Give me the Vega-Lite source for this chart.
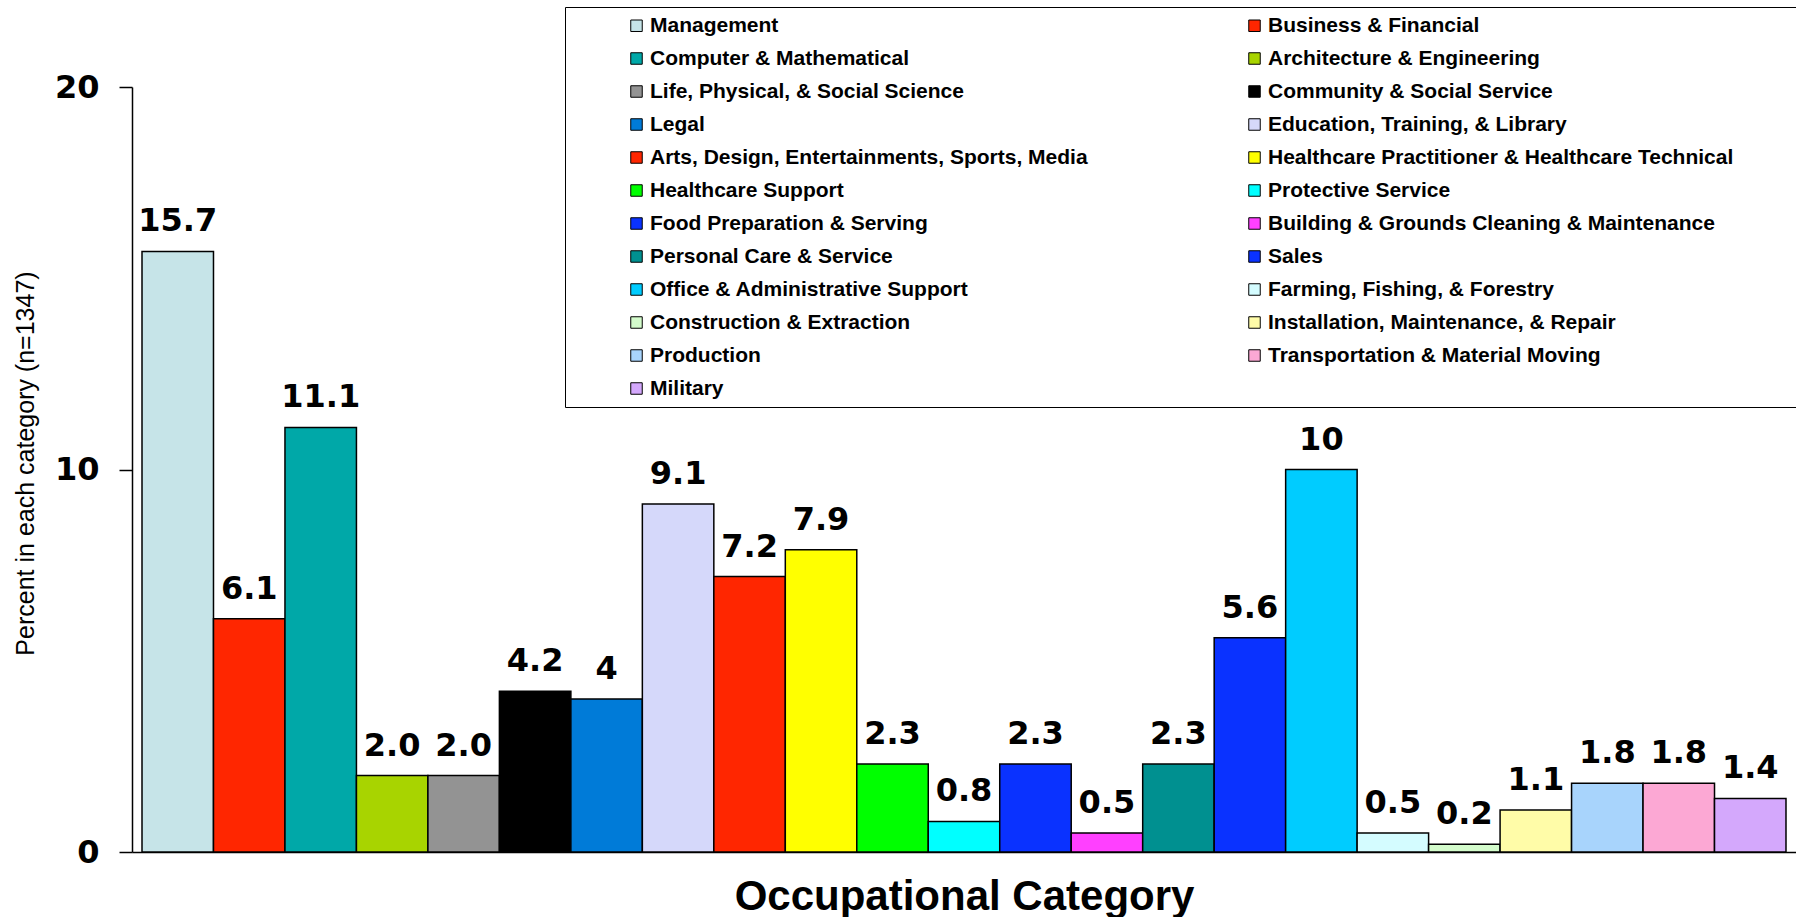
{
  "$schema": "https://vega.github.io/schema/vega-lite/v6.json",
  "autosize": {"type": "none"},
  "padding": {"left": 132, "top": 87, "right": 0, "bottom": 65},
  "width": 1664,
  "height": 765,
  "background": "white",
  "config": {"view": {"stroke": null}},
  "data": {"values": [
    {"cat": "Management", "pct": 15.7, "label": "15.7"},
    {"cat": "Business & Financial", "pct": 6.1, "label": "6.1"},
    {"cat": "Computer & Mathematical", "pct": 11.1, "label": "11.1"},
    {"cat": "Architecture & Engineering", "pct": 2.0, "label": "2.0"},
    {"cat": "Life, Physical, & Social Science", "pct": 2.0, "label": "2.0"},
    {"cat": "Community & Social Service", "pct": 4.2, "label": "4.2"},
    {"cat": "Legal", "pct": 4.0, "label": "4"},
    {"cat": "Education, Training, & Library", "pct": 9.1, "label": "9.1"},
    {"cat": "Arts, Design, Entertainments, Sports, Media", "pct": 7.2, "label": "7.2"},
    {"cat": "Healthcare Practitioner & Healthcare Technical", "pct": 7.9, "label": "7.9"},
    {"cat": "Healthcare Support", "pct": 2.3, "label": "2.3"},
    {"cat": "Protective Service", "pct": 0.8, "label": "0.8"},
    {"cat": "Food Preparation & Serving", "pct": 2.3, "label": "2.3"},
    {"cat": "Building & Grounds Cleaning & Maintenance", "pct": 0.5, "label": "0.5"},
    {"cat": "Personal Care & Service", "pct": 2.3, "label": "2.3"},
    {"cat": "Sales", "pct": 5.6, "label": "5.6"},
    {"cat": "Office & Administrative Support", "pct": 10.0, "label": "10"},
    {"cat": "Farming, Fishing, & Forestry", "pct": 0.5, "label": "0.5"},
    {"cat": "Construction & Extraction", "pct": 0.2, "label": "0.2"},
    {"cat": "Installation, Maintenance, & Repair", "pct": 1.1, "label": "1.1"},
    {"cat": "Production", "pct": 1.8, "label": "1.8"},
    {"cat": "Transportation & Material Moving", "pct": 1.8, "label": "1.8"},
    {"cat": "Military", "pct": 1.4, "label": "1.4"}
  ]},
  "encoding": {
    "x": {
      "field": "cat", "type": "nominal", "sort": null,
      "scale": {"paddingInner": 0, "paddingOuter": 0.14},
      "axis": {
        "title": "Occupational Category",
        "titleFont": "Liberation Sans", "titleFontSize": 42, "titleFontWeight": "bold", "titleColor": "black",
        "titleY": 57, "titleBaseline": "alphabetic",
        "labels": false, "ticks": false,
        "domainColor": "black", "domainWidth": 1.5
      }
    },
    "y": {
      "field": "pct", "type": "quantitative",
      "scale": {"domain": [0, 20], "nice": false},
      "axis": {
        "title": "Percent in each category (n=1347)",
        "titleFont": "Liberation Sans", "titleFontSize": 25, "titleFontWeight": "normal", "titleColor": "black",
        "titleX": -99, "titleY": 376, "titleAlign": "center", "titleBaseline": "alphabetic", "titleAngle": -90,
        "values": [0, 10, 20], "grid": false,
        "labelFont": "DejaVu Sans", "labelFontSize": 32, "labelFontWeight": "bold", "labelColor": "black",
        "labelPadding": 20, "tickSize": 13, "tickColor": "black", "tickWidth": 1.5,
        "domainColor": "black", "domainWidth": 1.5
      }
    }
  },
  "layer": [
    {
      "mark": {"type": "bar", "stroke": "black", "strokeWidth": 1.5},
      "encoding": {
        "fill": {
          "field": "cat", "type": "nominal", "sort": null,
          "scale": {
            "domain": ["Management", "Business & Financial", "Computer & Mathematical", "Architecture & Engineering", "Life, Physical, & Social Science", "Community & Social Service", "Legal", "Education, Training, & Library", "Arts, Design, Entertainments, Sports, Media", "Healthcare Practitioner & Healthcare Technical", "Healthcare Support", "Protective Service", "Food Preparation & Serving", "Building & Grounds Cleaning & Maintenance", "Personal Care & Service", "Sales", "Office & Administrative Support", "Farming, Fishing, & Forestry", "Construction & Extraction", "Installation, Maintenance, & Repair", "Production", "Transportation & Material Moving", "Military"],
            "range": ["#C6E4E8", "#FF2600", "#00A8A8", "#A8D400", "#939393", "#000000", "#007BD8", "#D5D8FA", "#FF2600", "#FFFF00", "#00FF00", "#00FFFF", "#0A32FF", "#FF40FF", "#009090", "#0A32FF", "#00CCFF", "#D4FCFF", "#D4FCCC", "#FFFCA8", "#A8D4FC", "#FCA8D4", "#D4A8FC"]
          },
          "legend": {
            "title": "\u00a0", "titleOrient": "right", "titlePadding": 70, "titleFontSize": 10,
            "orient": "none", "legendX": 433, "legendY": -80,
            "direction": "horizontal", "columns": 2,
            "columnPadding": 103, "rowPadding": 11,
            "padding": 8, "strokeColor": "black", "fillColor": "white",
            "symbolType": "square", "symbolSize": 132, "symbolStrokeColor": "black", "symbolStrokeWidth": 1,
            "symbolOffset": 53,
            "labelFont": "Liberation Sans", "labelFontSize": 21, "labelFontWeight": "bold", "labelColor": "black",
            "labelOffset": 3, "labelLimit": 800
          }
        }
      }
    },
    {
      "mark": {"type": "text", "font": "DejaVu Sans", "fontSize": 32, "fontWeight": "bold", "color": "black", "baseline": "alphabetic", "dy": -20},
      "encoding": {"text": {"field": "label"}}
    }
  ]
}
